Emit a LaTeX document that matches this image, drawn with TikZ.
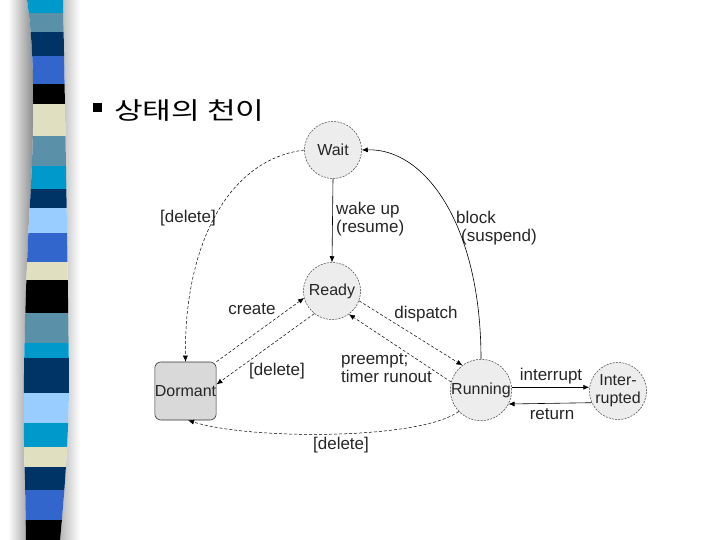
\documentclass[tikz,border=0pt]{standalone}
\usepackage{fontspec}
\usetikzlibrary{arrows.meta}
\newfontfamily\krfont[FakeStretch=1.3]{Noto Sans CJK KR}
\newfontfamily\dfont{Liberation Sans}
\definecolor{sCyan}{RGB}{0,153,204}
\definecolor{sSteel}{RGB}{90,145,168}
\definecolor{sNavy}{RGB}{0,51,102}
\definecolor{sRoyal}{RGB}{51,102,204}
\definecolor{sCream}{RGB}{224,224,192}
\definecolor{sLight}{RGB}{153,204,255}
\definecolor{sBlack}{RGB}{0,0,0}
\tikzset{
  barshape/.style={insert path={(27,0) .. controls (36,60) and (34,140) .. (29,220) .. controls (25,300) and (22,400) .. (25,480) -- (26,540) -- (60,540) .. controls (66,480) and (69,420) .. (69,380) .. controls (68,280) and (65,100) .. (63,0) -- cycle}},
  statenode/.style={circle, draw=black!75, dash pattern=on 2pt off 1.2pt, line width=0.5pt, fill=black!7, minimum size=57pt, inner sep=0pt, font=\dfont\fontsize{16}{18}\selectfont, text=black!85, align=center},
  dormbox/.style={rectangle, rounded corners=6pt, draw=black!80, line width=0.6pt, fill=black!15, minimum width=57pt, minimum height=58pt, inner sep=0pt, font=\dfont\fontsize{16}{18}\selectfont, text=black!85},
  lbl/.style={inner sep=0pt, font=\dfont\fontsize{17}{18}\selectfont, text=black!85, align=left},
  tip/.tip={Latex[length=6pt,width=5pt]},
  sline/.style={draw=black, line width=0.6pt, -tip},
  dline/.style={draw=black, line width=0.5pt, dash pattern=on 3pt off 2pt, -tip}
}
\begin{document}
\begin{tikzpicture}[x=1pt,y=-1pt]
\useasboundingbox (0,0) rectangle (720,540);
\fill[white] (0,0) rectangle (720,540);
% shadows of the stripe bar
\shade[left color=white, right color=black!50] (8,0) -- (27,0) .. controls (36,60) and (34,140) .. (29,220) .. controls (25,300) and (22,400) .. (25,480) -- (26,540) -- (8,540) -- cycle;
\shade[left color=black!28, right color=white] (63,0) .. controls (65,100) and (68,280) .. (69,380) .. controls (69,420) and (66,480) .. (60,540) -- (80,540) -- (80,0) -- cycle;
% stripe bar
\begin{scope}
\clip[barshape];
\fill[sCyan]  (0,0)   rectangle (100,13);
\fill[sSteel] (0,13)  rectangle (100,32);
\fill[sNavy]  (0,32)  rectangle (100,56);
\fill[sRoyal] (0,56)  rectangle (100,84);
\fill[sBlack] (0,84)  rectangle (100,104);
\fill[sCream] (0,104) rectangle (100,136);
\fill[sSteel] (0,136) rectangle (100,166);
\fill[sCyan]  (0,166) rectangle (100,189);
\fill[sNavy]  (0,189) rectangle (100,208);
\fill[sLight] (0,208) rectangle (100,233);
\fill[sRoyal] (0,233) rectangle (100,262);
\fill[sCream] (0,262) rectangle (100,280);
\fill[sBlack] (0,280) rectangle (100,313);
\fill[sSteel] (0,313) rectangle (100,343);
\fill[sCyan]  (0,343) rectangle (100,358);
\fill[sNavy]  (0,358) rectangle (100,393);
\fill[sLight] (0,393) rectangle (100,423);
\fill[sCyan]  (0,423) rectangle (100,447);
\fill[sCream] (0,447) rectangle (100,467);
\fill[sNavy]  (0,467) rectangle (100,490);
\fill[sRoyal] (0,490) rectangle (100,520);
\fill[sBlack] (0,520) rectangle (100,540);
\end{scope}
% title
\node[fill=black, minimum size=9pt, inner sep=0pt] (bullet) at (97,108) {};
\node[anchor=west, inner sep=0pt, font=\krfont\fontsize{24}{28}\selectfont] (title) at (114,111) {상태의 천이};
% states
\node[statenode] (wait) at (333,150) {Wait};
\node[statenode] (ready) at (332,291) {Ready};
\node[statenode] (running) at (481,390) {Running};
\node[statenode] (intr) at (618,391) {Inter-\\rupted};
\node[dormbox] (dormant) at (185.5,391) {Dormant};
% labels
\node[lbl, anchor=west] (lwake) at (336,219) {wake up\\(resume)};
\node[lbl] (ldel1) at (188,218) {[delete]};
\node[lbl, anchor=west] (lblock) at (456,228) {block\\\hspace*{5pt}(suspend)};
\node[lbl] (lcreate) at (252,309) {create};
\node[lbl] (ldisp) at (426,314) {dispatch};
\node[lbl] (ldel2) at (277,371) {[delete]};
\node[lbl, anchor=west] (lpre) at (341,368) {preempt;\\timer runout};
\node[lbl] (lint) at (551,376) {interrupt};
\node[lbl] (lret) at (552,414) {return};
\node[lbl] (ldel3) at (341,445) {[delete]};
% connectors
\draw[sline] (wait.south) -- (ready.north);
\draw[dline] (wait.west) .. controls (225,160) and (184,250) .. (dormant.north);
\draw[sline] (running.north) .. controls (481,225) and (425,148) .. (wait.east);
\draw[dline] (dormant.north east) -- (ready.194);
\draw[dline] (ready.232) -- (dormant.12);
\draw[dline] (ready.-20) -- (running.127);
\draw[dline] (running.165) -- (ready.-54);
\draw[sline] (running.5) -- (running.5 -| intr.west);
\draw[sline] (intr.204) -- (running.-27);
\draw[dline] (running.224) .. controls (420,440) and (250,440) .. (dormant.-85);
\end{tikzpicture}
\end{document}
